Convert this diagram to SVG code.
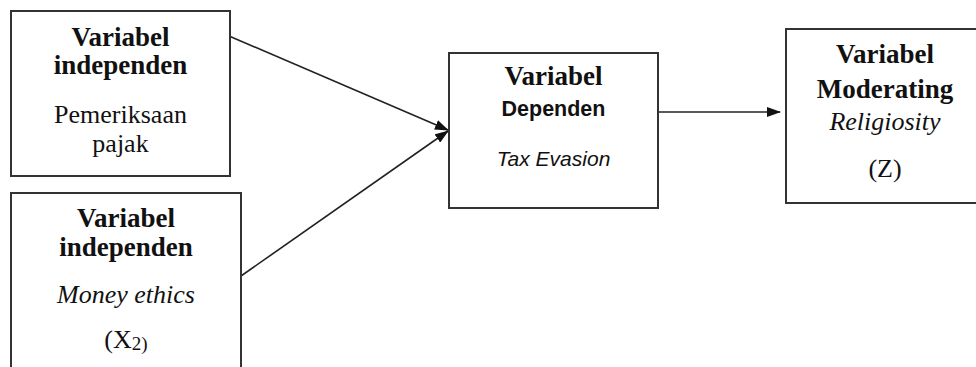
<svg xmlns="http://www.w3.org/2000/svg" width="976" height="367" viewBox="0 0 976 367">
<style>
.box{fill:#fff;stroke:#333;stroke-width:2}
.t{font-family:"Liberation Serif","Times New Roman",serif;font-size:26px;fill:#111;text-anchor:middle}
.b{font-weight:bold;font-size:27px}
.i{font-style:italic}
.s{font-family:"Liberation Sans",Arial,sans-serif}
.edge{stroke:#222;stroke-width:1.6;fill:none;marker-end:url(#ah)}
</style>
<defs>
<marker id="ah" viewBox="0 0 14 10" refX="13" refY="5" markerWidth="14" markerHeight="10" markerUnits="userSpaceOnUse" orient="auto">
<path d="M0,0 L14,5 L0,10 z" fill="#111"/>
</marker>
</defs>
<rect width="976" height="367" fill="#fff"/>
<g id="connectors">
<line class="edge" x1="229" y1="36" x2="448" y2="130"/>
<line class="edge" x1="241" y1="276" x2="448" y2="131"/>
<line class="edge" x1="658" y1="112" x2="780" y2="112"/>
</g>
<g id="x1">
<rect class="box" x="11" y="11" width="219" height="165"/>
<text class="t b" x="120.5" y="46">Variabel</text>
<text class="t b" x="120.5" y="74">independen</text>
<text class="t" x="120.5" y="123">Pemeriksaan</text>
<text class="t" x="120.5" y="152">pajak</text>
</g>
<g id="x2">
<rect class="box" x="11" y="193" width="230" height="190"/>
<text class="t b" x="126" y="227">Variabel</text>
<text class="t b" x="126" y="256">independen</text>
<text class="t i" x="126" y="303">Money ethics</text>
<text class="t" x="126" y="348">(X<tspan style="font-size:19px" dy="2">2)</tspan></text>
</g>
<g id="y">
<rect class="box" x="449" y="53" width="209" height="155"/>
<text class="t b" x="553.5" y="85">Variabel</text>
<text class="t b s" x="553.5" y="116" style="font-size:21.5px">Dependen</text>
<text class="t i s" x="553.5" y="166" style="font-size:21px">Tax Evasion</text>
</g>
<g id="z">
<rect class="box" x="786" y="29" width="200" height="174"/>
<text class="t b" x="885" y="63">Variabel</text>
<text class="t b" x="885" y="98">Moderating</text>
<text class="t i" x="885" y="130">Religiosity</text>
<text class="t" x="885" y="177">(Z)</text>
</g>
</svg>
